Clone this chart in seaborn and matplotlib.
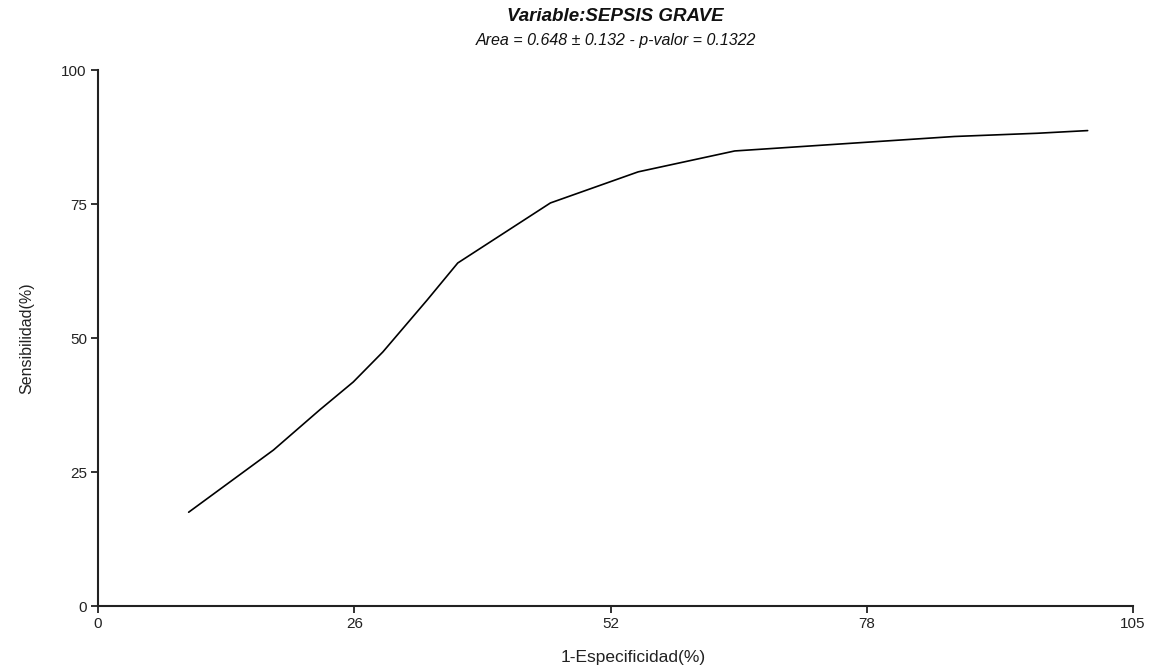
import matplotlib
matplotlib.use("Agg")
import matplotlib.pyplot as plt
import pandas as pd
import seaborn as sns

# ROC curve for SEPSIS GRAVE
false_pos_rate = [9.2, 17.8, 22.5, 25.9, 28.9, 33.4, 36.5, 45.9, 54.8, 64.6, 78.6, 86.9, 95.3, 100.4]
sensitivity = [17.5, 29.1, 36.6, 41.8, 47.4, 57.1, 64.0, 75.2, 81.0, 84.9, 86.6, 87.6, 88.2, 88.7]
x_ticks = [0, 26, 52, 78, 105]
y_ticks = [0, 25, 50, 75, 100]

title = "Variable:SEPSIS GRAVE"
subtitle = "Area = 0.648 ± 0.132 - p-valor = 0.1322"

sns.set_style("ticks")
plt.rcParams["font.family"] = ["Liberation Sans", "DejaVu Sans"]

df = pd.DataFrame({"fpr": false_pos_rate, "sens": sensitivity})

fig = plt.figure(figsize=(11.54, 6.70), dpi=100)
ax = fig.add_axes([0.0849, 0.0955, 0.8969, 0.800])

sns.lineplot(data=df, x="fpr", y="sens", sort=False, color="black",
             linewidth=1.2, ax=ax, clip_on=False)

ax.set_xlim(0, 105)
ax.set_ylim(0, 100)
ax.set_xticks(x_ticks)
ax.set_yticks(y_ticks)
ax.tick_params(axis="both", direction="out", length=5, width=1.3,
               labelsize=11, color="#222222", labelcolor="#222222", pad=3)

for side in ("top", "right"):
    ax.spines[side].set_visible(False)
for side in ("left", "bottom"):
    ax.spines[side].set_linewidth(1.5)
    ax.spines[side].set_color("#222222")

ax.set_xlabel("1-Especificidad(%)", fontsize=12.5, color="#222222")
ax.xaxis.set_label_coords(0.517, -0.082)
ax.set_ylabel("Sensibilidad(%)", fontsize=11.5, color="#222222")
ax.yaxis.set_label_coords(-0.062, 0.5)

# Title block centred over the plotting area
cx = 0.0849 + 0.8969 / 2
fig.text(cx, 0.988, title, ha="center", va="top", fontsize=13.5,
         fontweight="bold", fontstyle="italic", color="#111111")
fig.text(cx, 0.950, subtitle, ha="center", va="top", fontsize=11.5,
         fontstyle="italic", color="#111111")

fig.savefig("out.png", dpi=100, facecolor="white")
